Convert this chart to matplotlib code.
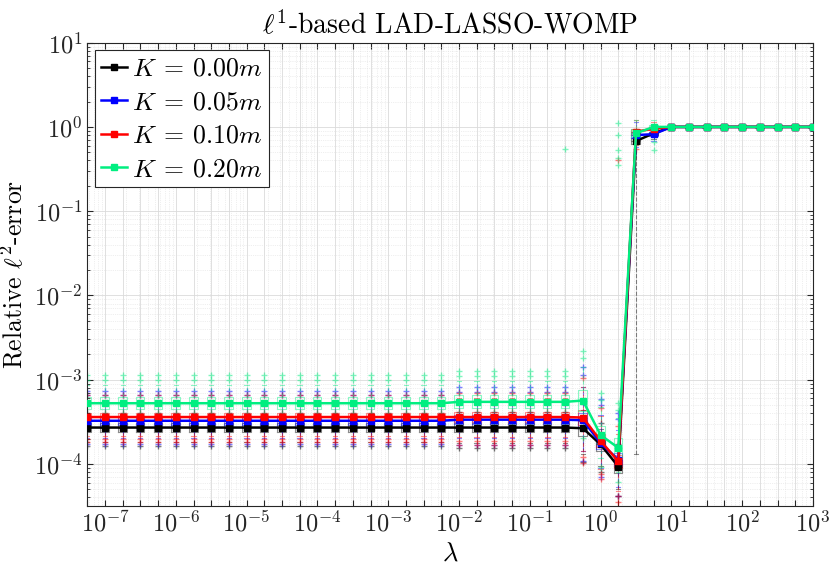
import numpy as np
import matplotlib
matplotlib.use("Agg")
import matplotlib.pyplot as plt
from matplotlib.ticker import FixedLocator, FuncFormatter, LogLocator, NullFormatter

plt.rcParams["font.family"] = "serif"
plt.rcParams["font.serif"] = ["cmr10"]
plt.rcParams["mathtext.fontset"] = "cm"
plt.rcParams["axes.formatter.use_mathtext"] = True
plt.rcParams["axes.unicode_minus"] = False

# -----------------------
# Data
# -----------------------

lam_exp = np.arange(-7.25, 3.01, 0.25)   # 42 lambda values, quarter decades
lam = 10.0 ** lam_exp

labels = [r"$K\:=\:0.00m$", r"$K\:=\:0.05m$", r"$K\:=\:0.10m$", r"$K\:=\:0.20m$"]
colors = ["black", "#0000ff", "#ff0000", "#00ee80"]

med_k000 = [2.7e-4] * 28 + [2.65e-4, 1.7e-4, 9.3e-5, 0.68, 0.84] + [1.0] * 9
med_k005 = [3.25e-4] * 21 + [3.35e-4] * 7 + [3.3e-4, 1.77e-4, 1.12e-4, 0.80, 0.82] + [1.0] * 9
med_k010 = [3.6e-4] * 28 + [3.55e-4, 1.88e-4, 1.07e-4, 0.88, 0.95] + [1.0] * 9
med_k020 = [5.25e-4] * 21 + [5.45e-4] * 7 + [5.65e-4, 2.2e-4, 1.55e-4, 0.84, 1.0] + [1.0] * 9
medians = [med_k000, med_k005, med_k010, med_k020]

# box spread per lambda (relative)
spread = [1.0] * 21 + [1.1] * 7 + [1.8, 1.5, 1.6, 0.7, 0.4] + [0.12] * 9

# per series, in decades: box half height, lower whisker, upper whisker, outliers
box_half = [0.05, 0.05, 0.05, 0.07]
whisk_lo = [0.17, 0.20, 0.22, 0.18]
whisk_hi = [0.12, 0.22, 0.20, 0.22]
fliers_dec = [[-0.22, 0.17], [-0.27, 0.30, 0.35], [-0.30, -0.26, 0.26], [-0.25, 0.28, 0.33]]

# special values
low_whisk_override = {(0, 31): 1.3e-4}
extra_fliers = {(3, 27): [0.55], (3, 30): [1.1, 0.8, 0.53, 0.43, 0.35],
                (3, 32): [0.67, 0.53], (2, 30): [0.4], (2, 31): [0.55]}

# -----------------------
# Plot
# -----------------------

fig = plt.figure(figsize=(8.3, 5.76), dpi=100)
ax = fig.add_axes([0.1052, 0.1215, 0.8743, 0.8044])
ax.set_xscale("log")
ax.set_yscale("log")

widths = lam * (10 ** 0.06 - 10 ** -0.06)

for s, (med, c) in enumerate(zip(medians, colors)):
    stats = []
    for i, (m, k) in enumerate(zip(med, spread)):
        lm = np.log10(m)
        lo = 10 ** (lm - whisk_lo[s] * k)
        if (s, i) in low_whisk_override:
            lo = low_whisk_override[(s, i)]
        fl = [10 ** (lm + f * k) for f in fliers_dec[s]] if k > 0.9 else []
        fl += extra_fliers.get((s, i), [])
        stats.append(dict(
            med=m,
            q1=10 ** (lm - box_half[s] * k),
            q3=10 ** (lm + box_half[s] * k),
            whislo=lo,
            whishi=10 ** (lm + whisk_hi[s] * k),
            fliers=fl,
        ))

    ax.bxp(
        stats,
        positions=lam,
        widths=widths,
        capwidths=widths * 0.5,
        manage_ticks=False,
        boxprops=dict(color=c, alpha=0.45, lw=0.8),
        whiskerprops=dict(color=c, alpha=0.45, lw=0.8, ls="--"),
        capprops=dict(color=c, alpha=0.45, lw=0.8),
        medianprops=dict(color=c, alpha=0.45, lw=0.8),
        flierprops=dict(marker="+", markeredgecolor=c, alpha=0.5, markersize=5, lw=0),
        zorder=2,
    )

lines = []
for med, c, lab in zip(medians, colors, labels):
    ln, = ax.plot(lam, med, "-", color=c, lw=1.8, marker="s", ms=4, label=lab, zorder=3)
    lines.append(ln)

ax.set_xlim(lam[0], lam[-1])
ax.set_ylim(10 ** -4.5, 10)


def xfmt(v, p):
    e = np.log10(v)
    if abs(e - round(e)) < 1e-6:
        return "$10^{%d}$" % round(e)
    return ""


ax.xaxis.set_major_locator(FixedLocator(lam))
ax.xaxis.set_major_formatter(FuncFormatter(xfmt))
ax.xaxis.set_minor_locator(LogLocator(base=10, subs=np.arange(2, 10), numticks=100))
ax.xaxis.set_minor_formatter(NullFormatter())
ax.yaxis.set_major_locator(LogLocator(base=10, numticks=20))
ax.yaxis.set_minor_locator(LogLocator(base=10, subs=np.arange(2, 10), numticks=100))
ax.yaxis.set_minor_formatter(NullFormatter())

ax.tick_params(which="both", direction="in", top=True, right=True,
               color="0.15", labelcolor="0.15", labelsize=17.5)
ax.tick_params(which="major", length=4)
ax.tick_params(which="minor", length=2.5)
ax.tick_params(axis="x", which="minor", length=0)

ax.grid(True, which="major", color="0.86", lw=0.6, ls="-")
ax.grid(True, which="minor", color="0.88", lw=0.5, ls=":")
ax.set_axisbelow(True)
for sp in ax.spines.values():
    sp.set_color("0.15")
    sp.set_linewidth(0.8)

ax.set_title(r"$\ell^1$-based LAD-LASSO-WOMP", fontsize=20, pad=6)
ax.set_xlabel(r"$\lambda$", fontsize=19, labelpad=4)
ax.set_ylabel(r"Relative $\ell^2$-error", fontsize=18.5)

leg = ax.legend(handles=lines, loc="upper left", fontsize=18.5, handlelength=1.0,
                handletextpad=0.2, labelspacing=0.38, borderpad=0.25,
                borderaxespad=0.3, fancybox=False, framealpha=1, edgecolor="0.15")
leg.get_frame().set_linewidth(0.8)

fig.savefig("out.png", dpi=100)
